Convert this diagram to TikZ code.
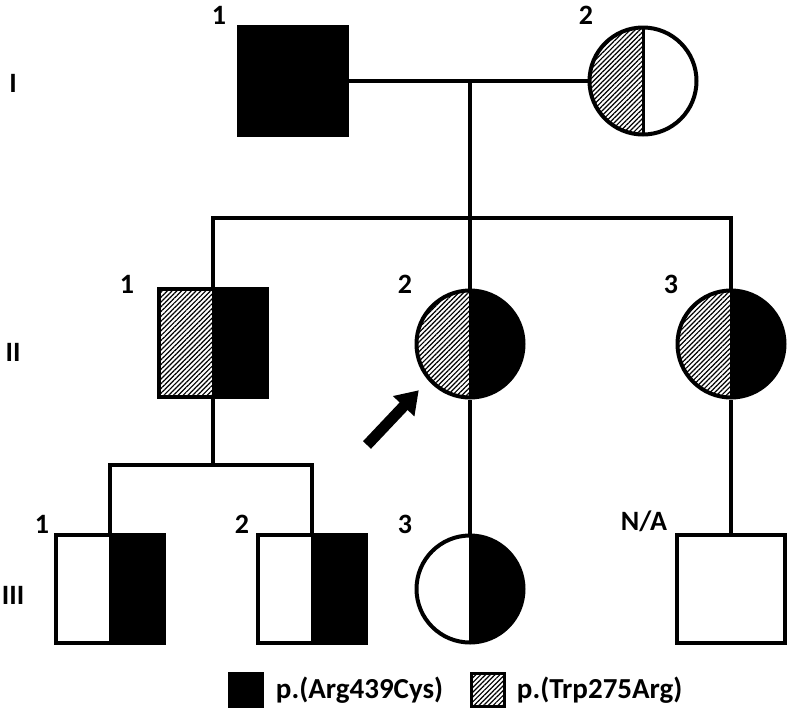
\documentclass[tikz,border=0pt]{standalone}
\usepackage{fontspec}
\setmainfont{Carlito}
\usetikzlibrary{patterns.meta, arrows.meta, positioning, calc}
\tikzset{
  hatch/.style={pattern={Lines[angle=45,distance=3.4pt,line width=1.2pt]}},
  person/.style={draw, line width=4pt, inner sep=0pt},
  male/.style={person, rectangle, minimum size=108pt},
  female/.style={person, circle, minimum size=107pt},
  halves/.style 2 args={path picture={
      \fill[#1] (path picture bounding box.north west) rectangle (path picture bounding box.south);
      \fill[#2] (path picture bounding box.north) rectangle (path picture bounding box.south east);
      \draw[line width=3pt] (path picture bounding box.north) -- (path picture bounding box.south);}},
  lineage/.style={line width=3.5pt},
  num/.style={font=\fontsize{28}{32}\selectfont\bfseries},
  legtext/.style={font=\fontsize{29}{33}\selectfont\bfseries, inner sep=0pt},
  legbox/.style={draw, line width=2.5pt, minimum size=33pt, inner sep=0pt},
}
\begin{document}
\begin{tikzpicture}[x=1pt, y=-1pt]
\useasboundingbox (0,0) rectangle (793,713);
% Generation I
\node[male, fill=black] (I1) at (293,81) {};
\node[female, halves={hatch}{white}] (I2) at (643,81) {};
\coordinate (mate) at (470,81);
\node[num] (nI1) at (219,15) {1};
\node[num] (nI2) at (586,15) {2};
\node[num] (genI) at (13,83) {I};

% Generation II
\node[male, halves={hatch}{black}] (II1) at (213,343) {};
\node[female, halves={hatch}{black}] (II2) at (470,344) {};
\node[female, halves={hatch}{black}] (II3) at (731,344) {};
\coordinate (sib1) at (470,218);
\node[num] (nII1) at (127,284) {1};
\node[num] (nII2) at (405,284) {2};
\node[num] (nII3) at (671,284) {3};
\node[num] (genII) at (13,352) {II};

% Generation III
\node[male, halves={white}{black}] (III1) at (110,589) {};
\node[male, halves={white}{black}] (III2) at (312,589) {};
\node[female, halves={white}{black}] (III3) at (470,589) {};
\node[male] (III4) at (731,589) {};
\coordinate (sib2) at (213,465);
\node[num] (nIII1) at (42,524) {1};
\node[num] (nIII2) at (242,524) {2};
\node[num] (nIII3) at (405,524) {3};
\node[num] (nIII4) at (644,521) {N/A};
\node[num] (genIII) at (13,595) {III};

% Lines
\draw[lineage] (I1) -- (I2);
\draw[lineage] (mate) -- (II2);
\draw[lineage] (II1.north) |- (sib1) -| (II3.north);
\draw[lineage] (II1) -- (sib2);
\draw[lineage] (III1.north) |- (sib2) -| (III2.north);
\draw[lineage] (II2) -- (III3);
\draw[lineage] (II3) -- (III4);

% Proband
\coordinate (probtail) at (367,445);
\draw[line width=11pt, -{Triangle[length=22pt,width=28pt]}] (probtail) -- ($(II2.225)+(-12,7)$);

% Legend
\node[legbox, fill=black] (legA) at (246,690) {};
\node[legtext, right=12pt of legA] (legAtxt) {p.(Arg439Cys)};
\node[legbox, hatch] (legB) at (488,690) {};
\node[legtext, right=11pt of legB] (legBtxt) {p.(Trp275Arg)};
\end{tikzpicture}
\end{document}
